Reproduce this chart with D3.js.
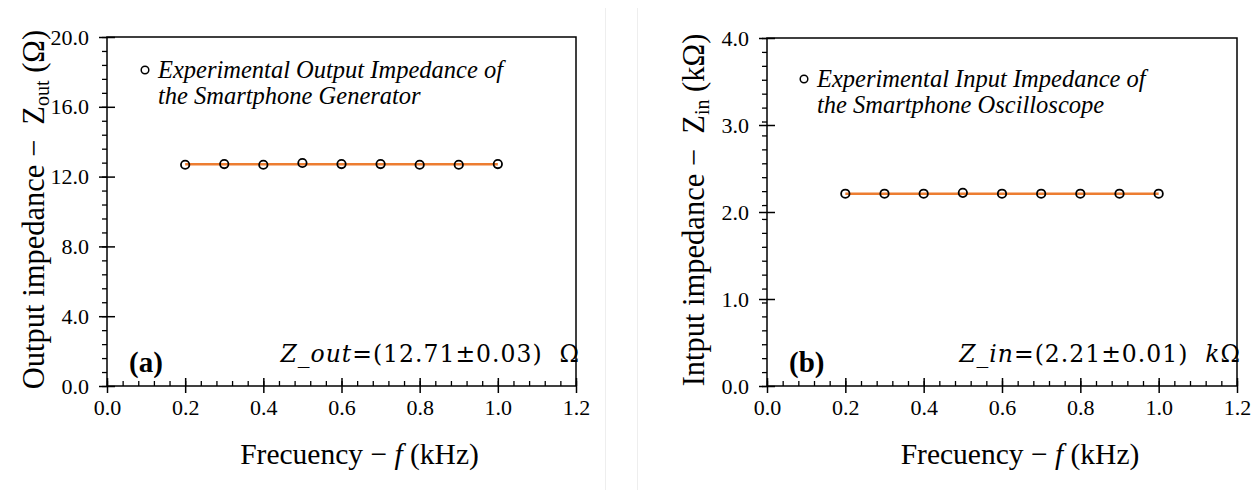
<!DOCTYPE html>
<html><head><meta charset="utf-8">
<script src="https://cdn.jsdelivr.net/npm/d3@7"></script>
<style>body{margin:0;background:#fff}svg{display:block}
svg text{font-family:"Liberation Serif","Times New Roman",serif;}
</style>
</head><body>
<svg id="c" width="1260" height="497"></svg>
<script>
// ---- data ----
const freqs = [0.2, 0.3, 0.4, 0.5, 0.6, 0.7, 0.8, 0.9, 1.0];
const zOut = [12.68, 12.72, 12.68, 12.78, 12.72, 12.72, 12.68, 12.68, 12.72];
const zIn = [2.21, 2.21, 2.21, 2.22, 2.21, 2.21, 2.21, 2.21, 2.21];
const fitOut = 12.71;
const fitIn = 2.21;
const xTicks = [0.0, 0.2, 0.4, 0.6, 0.8, 1.0, 1.2];
const yTicksOut = [0.0, 4.0, 8.0, 12.0, 16.0, 20.0];
const yTicksIn = [0.0, 1.0, 2.0, 3.0, 4.0];
const legendOut = ["Experimental Output Impedance of", "the Smartphone Generator"];
const legendIn = ["Experimental Input Impedance of", "the Smartphone Oscilloscope"];

const svg = d3.select("#c");
const serif = '"Liberation Serif","Times New Roman",serif';
const mathFont = '"DejaVu Serif",serif';

svg.append("line").attr("x1",605.5).attr("x2",605.5).attr("y1",8).attr("y2",490).attr("stroke","#eeeeee");
svg.append("line").attr("x1",637.5).attr("x2",637.5).attr("y1",8).attr("y2",490).attr("stroke","#eeeeee");

function panel(o){
  const g = svg.append("g");
  const x = d3.scaleLinear().domain([0,1.2]).range([o.left, o.right]);
  const y = d3.scaleLinear().domain([0,o.ymax]).range([o.bottom, o.top]);
  const xMinor = d3.range(0, 1.2001, 0.04).map(v=>+v.toFixed(2));
  const yMinor = d3.range(0, o.ymax+1e-6, o.ymax/25).map(v=>+v.toFixed(3));

  g.append("rect").attr("x",o.left).attr("y",o.top).attr("width",o.right-o.left).attr("height",o.bottom-o.top)
    .attr("fill","none").attr("stroke","#000").attr("stroke-width",1.5);

  const styleText = s => s.selectAll("text").style("font-family",serif).style("font-size","22px").attr("fill","#000");

  g.append("g").attr("transform",`translate(0,${o.bottom})`)
    .call(d3.axisBottom(x).tickValues(xMinor).tickSize(-5).tickFormat(""))
    .call(s=>{s.select(".domain").remove(); s.selectAll("line").attr("stroke-width",1.3);});
  g.append("g").attr("transform",`translate(0,${o.bottom})`)
    .call(d3.axisBottom(x).tickValues(xTicks).tickSize(-8).tickFormat(""))
    .call(s=>{s.select(".domain").remove(); s.selectAll("line").attr("stroke-width",1.5);});
  g.append("g").attr("transform",`translate(0,${o.bottom})`)
    .call(d3.axisBottom(x).tickValues(xTicks).tickSize(7).tickPadding(6).tickFormat(d3.format(".1f")))
    .call(s=>{s.select(".domain").remove(); s.selectAll("line").attr("stroke-width",1.5); styleText(s);});

  g.append("g").attr("transform",`translate(${o.left},0)`)
    .call(d3.axisLeft(y).tickValues(yMinor).tickSize(5).tickFormat(""))
    .call(s=>{s.select(".domain").remove(); s.selectAll("line").attr("stroke-width",1.3);});
  g.append("g").attr("transform",`translate(${o.left},0)`)
    .call(d3.axisLeft(y).tickValues(o.yTicks).tickSize(-8).tickFormat(""))
    .call(s=>{s.select(".domain").remove(); s.selectAll("line").attr("stroke-width",1.5);});
  g.append("g").attr("transform",`translate(${o.left},0)`)
    .call(d3.axisLeft(y).tickValues(o.yTicks).tickSize(8).tickPadding(10).tickFormat(d3.format(".1f")))
    .call(s=>{s.select(".domain").remove(); s.selectAll("line").attr("stroke-width",1.5); styleText(s);});

  g.append("line").attr("x1",x(freqs[0])).attr("x2",x(freqs[freqs.length-1]))
    .attr("y1",y(o.fit)).attr("y2",y(o.fit)).attr("stroke","#ED7D31").attr("stroke-width",2.5);
  g.selectAll("circle.pt").data(freqs.map((f,i)=>[f,o.vals[i]])).join("circle").attr("class","pt")
    .attr("cx",d=>x(d[0])).attr("cy",d=>y(d[1])).attr("r",4.2)
    .attr("fill","none").attr("stroke","#000").attr("stroke-width",1.8);

  g.append("circle").attr("cx",o.legX).attr("cy",o.legY).attr("r",3.8).attr("fill","none").attr("stroke","#000").attr("stroke-width",1.5);
  o.legend.forEach((t,i)=>{
    g.append("text").attr("x",o.legX+13).attr("y",o.legY+8+i*26).text(t)
      .style("font-family",serif).style("font-style","italic").style("font-size","24.5px");
  });

  g.append("text").attr("x",o.left+22).attr("y",o.bottom-14).text(o.letter)
    .style("font-family",serif).style("font-weight","bold").style("font-size","29px");

  const f = g.append("text").attr("x",o.right+4).attr("y",o.bottom-24).attr("text-anchor","end")
    .style("font-family",mathFont).style("font-size","23.5px").style("letter-spacing","1px");
  f.append("tspan").style("font-style","italic").text("Z");
  f.append("tspan").style("font-style","italic").text("_" + o.sub);
  f.append("tspan").text("=(" + o.fitLabel + ")\u00A0\u00A0");
  if(o.unitPre) f.append("tspan").style("font-style","italic").text(o.unitPre);
  f.append("tspan").text("\u03A9");

  const xl = g.append("text").attr("x",(o.left+o.right)/2 + 18).attr("y",464).attr("text-anchor","middle")
    .style("font-family",serif).style("font-size","29.5px");
  xl.append("tspan").text("Frecuency \u2212 ");
  xl.append("tspan").style("font-style","italic").text("f");
  xl.append("tspan").text(" (kHz)");

  const yl = g.append("text").attr("transform",`translate(${o.ylabX},${(o.top+o.bottom)/2 - 2}) rotate(-90)`)
    .attr("text-anchor","middle").style("font-family",serif).style("font-size","30.5px");
  yl.append("tspan").text(o.ylabel + " \u2212\u00A0\u00A0Z");
  yl.append("tspan").style("font-size","20px").attr("dy",5).text(o.sub);
  yl.append("tspan").attr("dy",-5).text(" (" + o.unit + ")");
}

panel({left:107,right:576,top:37,bottom:386,ymax:20,yTicks:yTicksOut,vals:zOut,fit:fitOut,
  legX:145,legY:70,legend:legendOut,letter:"(a)",sub:"out",fitLabel:"12.71\u00B10.03",unitPre:"",
  ylabel:"Output impedance",unit:"\u03A9",ylabX:44});
panel({left:767,right:1237,top:38,bottom:386,ymax:4,yTicks:yTicksIn,vals:zIn,fit:fitIn,
  legX:804,legY:79,legend:legendIn,letter:"(b)",sub:"in",fitLabel:"2.21\u00B10.01",unitPre:"k",
  ylabel:"Intput impedance",unit:"k\u03A9",ylabX:704});
</script>
</body></html>
